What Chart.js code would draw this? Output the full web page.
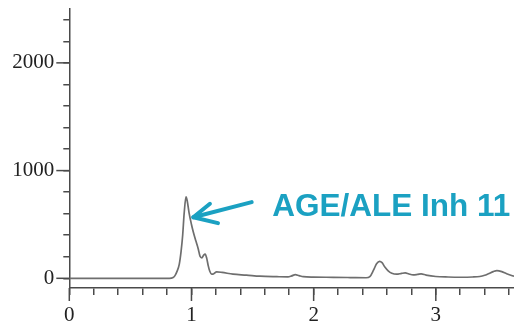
<!DOCTYPE html>
<html>
<head>
<meta charset="utf-8">
<script src="https://cdn.jsdelivr.net/npm/chart.js@4"></script>
<style>
html,body{margin:0;padding:0;background:#fff;}
#wrap{position:relative;width:514px;height:323px;}
</style>
</head>
<body>
<div id="wrap"><canvas id="c" width="514" height="323"></canvas></div>
<script>
// Retention time (x) and detector signal (y)
const timeValues = [0, 0.5, 0.82, 0.85, 0.865, 0.88, 0.9, 0.915, 0.928, 0.94, 0.955, 0.965, 0.98, 1.0, 1.015, 1.035, 1.055, 1.07, 1.085, 1.1, 1.112, 1.125, 1.137, 1.15, 1.165, 1.18, 1.206, 1.25, 1.34, 1.45, 1.56, 1.7, 1.79, 1.82, 1.85, 1.88, 1.915, 2.0, 2.16, 2.3, 2.43, 2.46, 2.49, 2.515, 2.54, 2.56, 2.583, 2.61, 2.64, 2.68, 2.72, 2.75, 2.78, 2.815, 2.85, 2.88, 2.92, 3.0, 3.1, 3.2, 3.3, 3.36, 3.4, 3.43, 3.47, 3.5, 3.54, 3.58, 3.62, 3.64];
const signalValues = [0, 0, 0, 8, 25, 60, 130, 250, 400, 600, 755, 720, 610, 500, 430, 350, 275, 205, 190, 215, 225, 185, 118, 65, 38, 40, 60, 55, 38, 30, 20, 15, 13, 22, 34, 25, 15, 11, 9, 7, 5, 15, 75, 135, 158, 145, 105, 70, 47, 38, 46, 50, 40, 32, 36, 41, 30, 17, 12, 10, 12, 17, 28, 42, 62, 72, 62, 42, 26, 19];
const xTickValues = [0, 0.2, 0.4, 0.6, 0.8, 1, 1.2, 1.4, 1.6, 1.8, 2, 2.2, 2.4, 2.6, 2.8, 3, 3.2, 3.4, 3.6];
const yTickValues = [0, 200, 400, 600, 800, 1000, 1200, 1400, 1600, 1800, 2000, 2200, 2400];
const xMajorLabels = [0, 1, 2, 3];
const yMajorLabels = [0, 1000, 2000];
const annotationText = "AGE/ALE Inh 11";
// annotation anchor points in data units: text baseline-left, arrow tip, arrow tail, arrow wings
const annotationTextAt = {x: 1.661, y: 583};
const arrowTip = {x: 1.015, y: 567};
const arrowTail = {x: 1.493, y: 707};
const arrowWings = [{x: 1.151, y: 692}, {x: 1.217, y: 512}];

const axisColor = '#4a4a4a';
const teal = '#1ba1c2';

const majorTickPlugin = {
  id: 'majorTicks',
  afterDraw(chart) {
    const ctx = chart.ctx;
    const xs = chart.scales.x, ys = chart.scales.y;
    ctx.save();
    ctx.strokeStyle = axisColor;
    ctx.lineWidth = 1.5;
    xMajorLabels.forEach(v => {
      const px = xs.getPixelForValue(v);
      ctx.beginPath(); ctx.moveTo(px, xs.top); ctx.lineTo(px, xs.top + 13); ctx.stroke();
    });
    yMajorLabels.forEach(v => {
      const py = ys.getPixelForValue(v);
      ctx.beginPath(); ctx.moveTo(ys.right, py); ctx.lineTo(ys.right - 13, py); ctx.stroke();
    });
    // annotation
    const P = p => ({x: xs.getPixelForValue(p.x), y: ys.getPixelForValue(p.y)});
    const t = P(annotationTextAt);
    ctx.fillStyle = teal;
    ctx.font = 'bold 31.5px "Liberation Sans", Arial, sans-serif';
    ctx.textBaseline = 'alphabetic';
    ctx.textAlign = 'left';
    ctx.fillText(annotationText, t.x, t.y);
    const tip = P(arrowTip), tail = P(arrowTail);
    ctx.strokeStyle = teal;
    ctx.lineWidth = 4;
    ctx.lineCap = 'round';
    ctx.lineJoin = 'round';
    ctx.beginPath(); ctx.moveTo(tail.x, tail.y); ctx.lineTo(tip.x, tip.y); ctx.stroke();
    const w1 = P(arrowWings[0]), w2 = P(arrowWings[1]);
    ctx.beginPath(); ctx.moveTo(w1.x, w1.y); ctx.lineTo(tip.x, tip.y); ctx.lineTo(w2.x, w2.y); ctx.stroke();
    ctx.restore();
  }
};

const serif = {family: '"Liberation Serif", "Times New Roman", serif', size: 21};

new Chart(document.getElementById('c'), {
  type: 'line',
  data: {
    datasets: [{
      data: timeValues.map((t, i) => ({x: t, y: signalValues[i]})),
      borderColor: '#6e6e6e',
      borderWidth: 1.7,
      pointRadius: 0,
      cubicInterpolationMode: 'monotone',
      fill: false
    }]
  },
  options: {
    responsive: false,
    animation: false,
    events: [],
    layout: {padding: {top: 9, right: 0, left: 0, bottom: 0}},
    plugins: {legend: {display: false}, tooltip: {enabled: false}},
    scales: {
      x: {
        type: 'linear',
        min: 0, max: 3.64,
        afterBuildTicks: s => { s.ticks = xTickValues.map(v => ({value: v})); },
        afterFit: s => { s.height = 35; s.paddingLeft = 0; s.paddingRight = 0; },
        border: {display: true, color: axisColor, width: 1.5},
        grid: {drawOnChartArea: false, drawTicks: true, tickLength: 7, color: axisColor, lineWidth: 1.5},
        ticks: {
          autoSkip: false, maxRotation: 0, minRotation: 0,
          padding: 8, color: '#222', font: serif,
          callback: v => xMajorLabels.includes(v) ? String(v) : ''
        }
      },
      y: {
        type: 'linear',
        min: -90, max: 2500,
        afterBuildTicks: s => { s.ticks = yTickValues.map(v => ({value: v})); },
        afterFit: s => { s.width = 69.3; s.paddingTop = 0; s.paddingBottom = 0; },
        border: {display: true, color: axisColor, width: 1.5},
        grid: {drawOnChartArea: false, drawTicks: true, tickLength: 6, color: axisColor, lineWidth: 1.5},
        ticks: {
          autoSkip: false,
          padding: 9, color: '#222', font: serif,
          callback: v => yMajorLabels.includes(v) ? String(v) : ''
        }
      }
    }
  },
  plugins: [majorTickPlugin]
});
</script>
</body>
</html>
